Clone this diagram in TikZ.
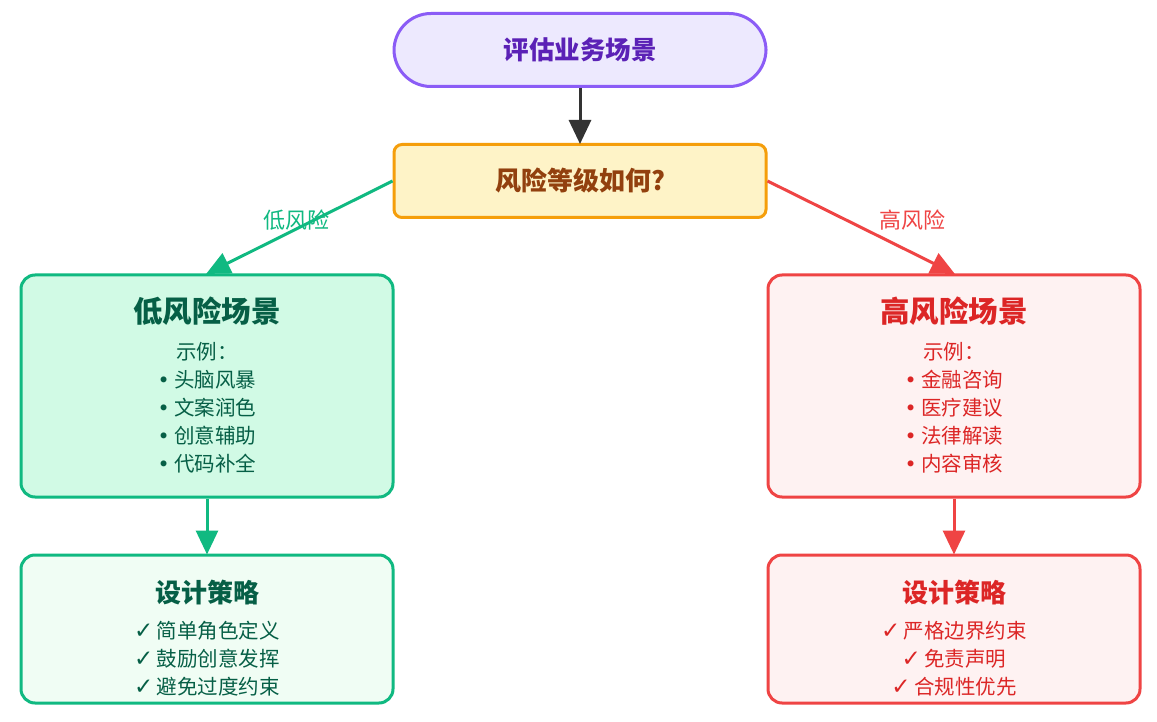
\documentclass[tikz,border=0pt]{standalone}
\usepackage{fontspec}
\setmainfont{Noto Sans CJK SC}
\newfontfamily\symfont{DejaVu Sans}
\usetikzlibrary{arrows.meta}
\definecolor{pborder}{HTML}{8B5CF6}
\definecolor{pfill}{HTML}{EDE9FE}
\definecolor{ptext}{HTML}{5B21B6}
\definecolor{oborder}{HTML}{F59E0B}
\definecolor{ofill}{HTML}{FEF3C7}
\definecolor{otext}{HTML}{92400E}
\definecolor{gborder}{HTML}{10B981}
\definecolor{gfill}{HTML}{D1FAE5}
\definecolor{gfillb}{HTML}{F0FDF4}
\definecolor{gtext}{HTML}{065F46}
\definecolor{rborder}{HTML}{EF4444}
\definecolor{rfill}{HTML}{FEF2F2}
\definecolor{rtext}{HTML}{DC2626}
\definecolor{darkarrow}{HTML}{333333}
\tikzset{
  boxbase/.style={draw, line width=3pt, minimum width=372pt, inner sep=0pt},
  bigbox/.style={boxbase, rounded corners=14pt, minimum height=222pt},
  stratbox/.style={boxbase, rounded corners=14pt, minimum height=148pt},
  titletext/.style={font=\fontsize{29.5}{34}\selectfont\bfseries, inner sep=0pt},
  stitle/.style={font=\fontsize{26}{30}\selectfont\bfseries, inner sep=0pt},
  bodytext/.style={font=\fontsize{20.5}{28}\selectfont, align=center, inner sep=0pt},
  edgelabel/.style={font=\fontsize{22}{26}\selectfont, inner sep=0pt},
  conn/.style={line width=3pt, -{Triangle[length=24pt,width=22pt]}, shorten >=-1pt},
}
\newcommand{\chk}{{\symfont\fontsize{23}{28}\selectfont ✓}\,}
\newcommand{\bul}{{\symfont •}\ }
\begin{document}
\begin{tikzpicture}[x=1pt,y=-1pt]
\useasboundingbox[fill=white] (0,0) rectangle (1157,722);
% top
\node[draw=pborder, fill=pfill, line width=3pt, rounded corners=37pt,
      minimum width=372pt, minimum height=73pt, inner sep=0pt,
      text=ptext, font=\fontsize{25.5}{30}\selectfont\bfseries] (start) at (580,50) {评估业务场景};
\node[draw=oborder, fill=ofill, line width=3pt, rounded corners=8pt,
      minimum width=372pt, minimum height=73pt, inner sep=0pt,
      text=otext, font=\fontsize{26}{30}\selectfont\bfseries] (dec) at (580,181) {风险等级如何?};
% low
\node[bigbox, draw=gborder, fill=gfill] (low) at (207,386) {};
\node[titletext, text=gtext] (lowtitle) at (207,311) {低风险场景};
\node[bodytext, text=gtext, anchor=north] (lowbody) at (207,342) {示例：\\\bul 头脑风暴\\\bul 文案润色\\\bul 创意辅助\\\bul 代码补全};
% high
\node[bigbox, draw=rborder, fill=rfill] (high) at (954,386) {};
\node[titletext, text=rtext] (hightitle) at (954,311) {高风险场景};
\node[bodytext, text=rtext, anchor=north] (highbody) at (954,342) {示例：\\\bul 金融咨询\\\bul 医疗建议\\\bul 法律解读\\\bul 内容审核};
% low strategy
\node[stratbox, draw=gborder, fill=gfillb] (lows) at (207,629) {};
\node[stitle, text=gtext] (lowstitle) at (207,593) {设计策略};
\node[bodytext, text=gtext, anchor=north] (lowsbody) at (207,621) {\chk 简单角色定义\\\chk 鼓励创意发挥\\\chk 避免过度约束};
% high strategy
\node[stratbox, draw=rborder, fill=rfill] (highs) at (954,629) {};
\node[stitle, text=rtext] (highstitle) at (954,593) {设计策略};
\node[bodytext, text=rtext, anchor=north] (highsbody) at (954,621) {\chk 严格边界约束\\\chk 免责声明\\\chk 合规性优先};
% connectors
\draw[conn, darkarrow] (start.south) -- (dec.north);
\draw[conn, gborder] (dec.west) -- (low.north);
\draw[conn, rborder] (dec.east) -- (high.north);
\draw[conn, gborder] (low.south) -- (lows.north);
\draw[conn, rborder] (high.south) -- (highs.north);
\node[edgelabel, text=gborder] (lowlab) at (296,220) {低风险};
\node[edgelabel, text=rborder] (highlab) at (912,220) {高风险};
\end{tikzpicture}
\end{document}
